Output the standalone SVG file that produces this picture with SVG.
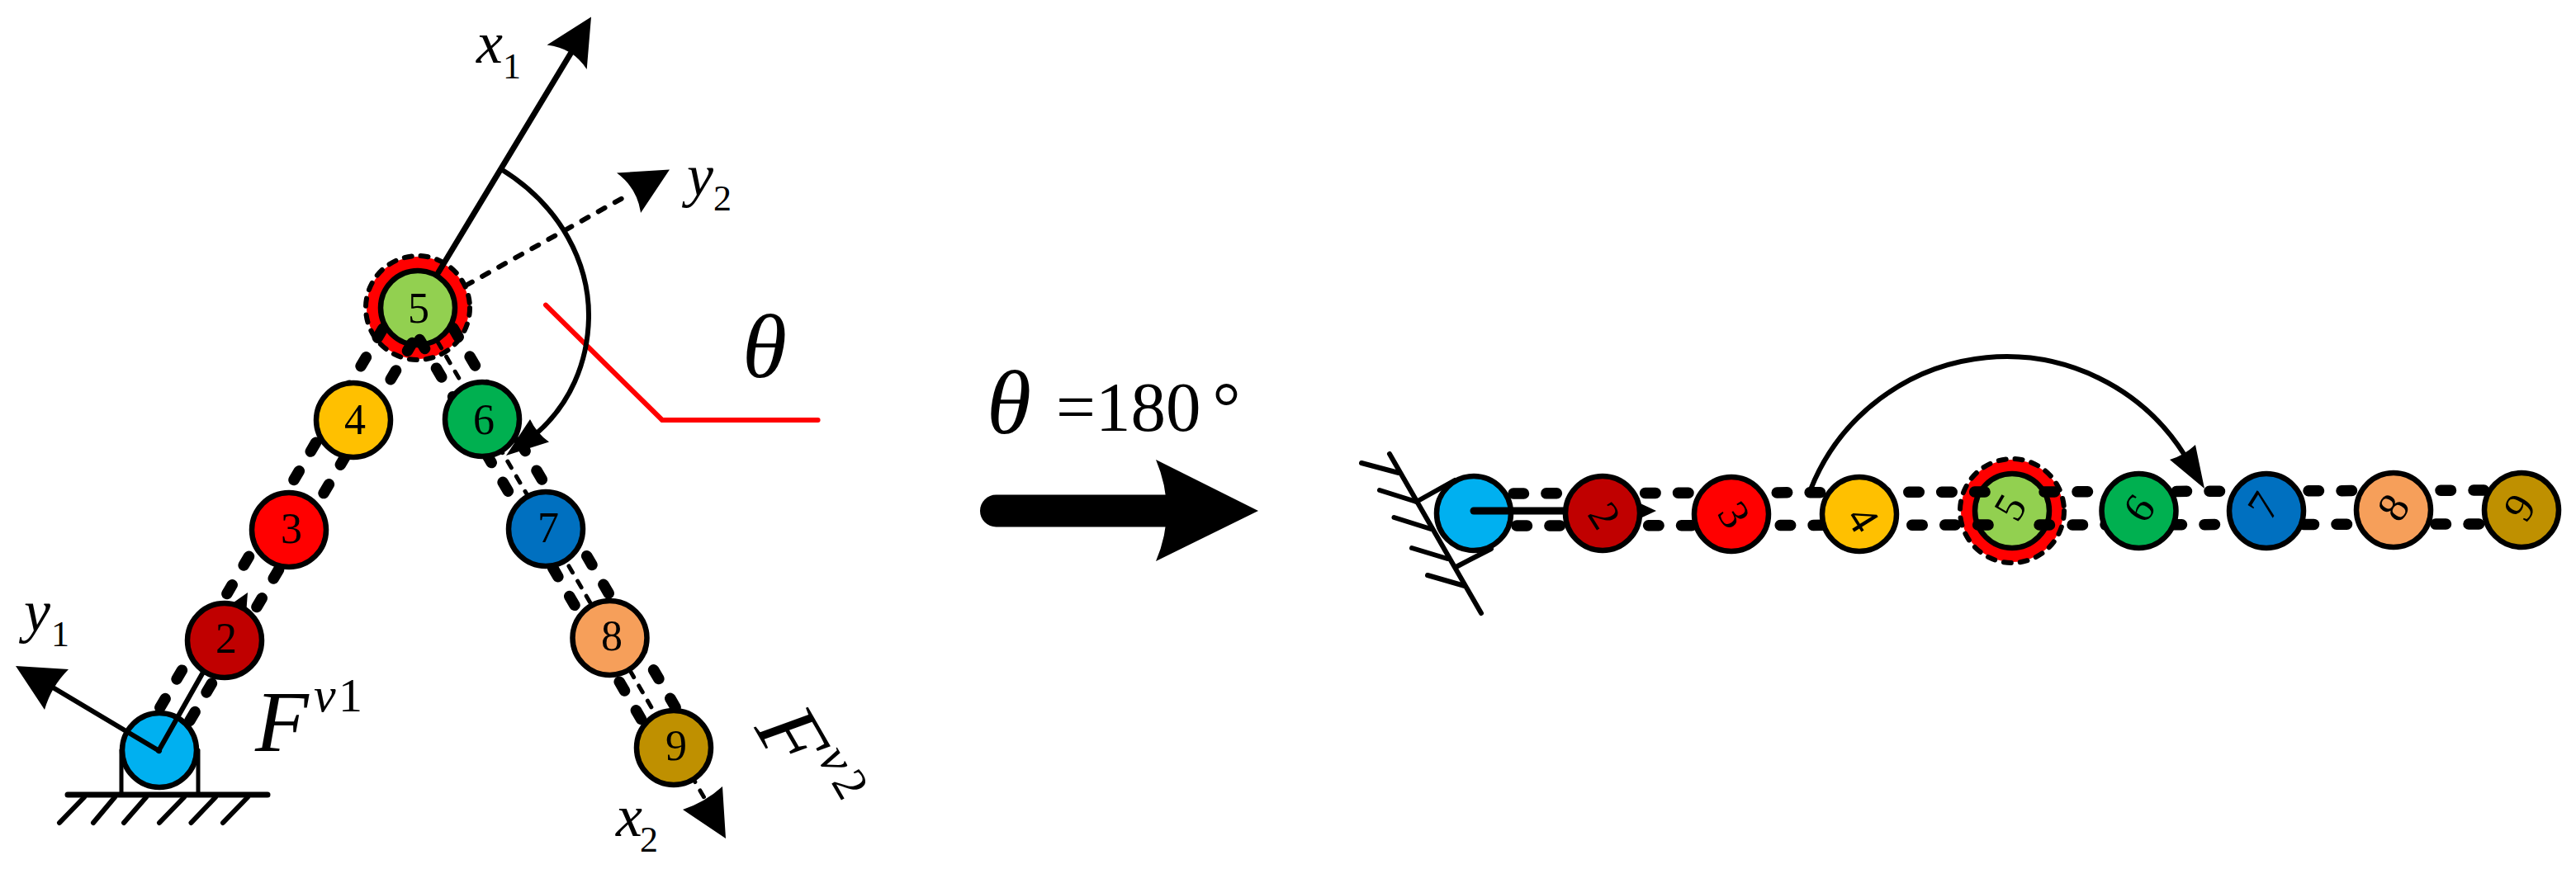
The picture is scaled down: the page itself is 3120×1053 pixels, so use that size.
<svg xmlns="http://www.w3.org/2000/svg" width="3120" height="1053" viewBox="0 0 3120 1053">
<style>
.n{stroke:#000;stroke-width:6.5}
.d{font:52px "Liberation Serif",serif;text-anchor:middle;fill:#000}
.l{fill:none;stroke:#000;stroke-width:6;stroke-linecap:round}
.t{fill:none;stroke:#000;stroke-width:13.5;stroke-linecap:round;stroke-dasharray:12.5 27.5}
.tr{fill:none;stroke:#000;stroke-width:13.5;stroke-linecap:round}
.th{fill:none;stroke:#000;stroke-width:5;stroke-linecap:round;stroke-dasharray:9 12}
.dot{fill:none;stroke:#000;stroke-width:6;stroke-linecap:round;stroke-dasharray:9 14}
.h{fill:#000}
.i{font-family:"Liberation Serif",serif;font-style:italic;fill:#000}
.r{font-family:"Liberation Serif",serif;fill:#000}
</style>
<rect width="3120" height="1053" fill="#fff"/>
<g id="ground-left">
<path class="l" d="M82,963H324" style="stroke-width:7"/>
<path class="l" d="M102,966L72,997M139,966L113,997M177,966L150,997M223,966L193,997M261,966L231.500,997M300,966L270,997"/>
<path class="l" d="M147,909V963M240,909V963" style="stroke-width:5"/>
</g>
<g id="ground-right">
<path class="l" d="M1683,550L1794,743"/>
<path class="l" d="M1649,561L1694,573M1671,594L1715.500,608M1688.500,627L1733,641M1710,664L1753,677M1729,697L1774,710"/>
<path class="l" d="M1715.500,608L1762,582M1763.500,687L1806,665"/>
</g>
<g id="node-1"><circle class="n" cx="193" cy="909" r="45" fill="#00B0F0"/></g>
<g id="node-5"><circle cx="506" cy="373" r="62" fill="#f00"/><circle class="dot" cx="506" cy="373" r="63" style="stroke-dasharray:9 11"/><circle class="n" cx="506" cy="373" r="45" fill="#92D050"/><text class="d" transform="translate(507,391)">5</text></g>
<g id="node-r1"><circle class="n" cx="1785" cy="622" r="45" fill="#00B0F0"/></g>
<g id="node-r5"><circle cx="2437" cy="619" r="62" fill="#f00"/><circle class="dot" cx="2437" cy="619" r="63" style="stroke-dasharray:9 11"/><circle class="n" cx="2437" cy="619" r="45" fill="#92D050"/><text class="d" transform="translate(2435,615) rotate(-60) translate(0,17)">5</text></g>
<g id="connectors">
<path d="M661,369.600L802,509H990.600" fill="none" stroke="#f00" stroke-width="6" stroke-linecap="round" stroke-linejoin="round"/>
<path class="t" d="M193.800,857.400L464.700,396.600"/>
<path class="t" d="M229.800,873.400L499.200,415.500"/>
<path class="t" d="M508.300,411.600L797,906.400"/>
<path class="t" d="M548.900,397.600L836.600,888.600"/>
<path class="th" d="M530,414L855,970"/>
<path class="h" d="M879,1016L875,953Q854,972 827,981Z"/>
<path class="l" d="M531,330L691,65" style="stroke-width:7"/>
<path class="h" d="M716,20.500L662.500,54.500Q694,58 710.700,84Z"/>
<path class="dot" d="M564,346L763,235"/>
<path class="h" d="M811,205.500L747,209.500Q772,228 776,258Z"/>
<path class="l" d="M193,910L64,833"/>
<path class="h" d="M19,807L83,811Q62,832 54,860Z"/>
<path class="l" d="M192,910L265,781"/>
<path class="h" d="M300,718L295,784L246,756Z"/>
<path class="tr" style="stroke-dasharray:12.500 27.400" d="M1833,598L2414,596"/>
<path class="tr" style="stroke-dasharray:12.500 27.500" d="M2476,596L3010,594"/>
<path class="tr" style="stroke-dasharray:12.500 27.400" d="M1837,637L2414,636"/>
<path class="tr" style="stroke-dasharray:12.500 27.500" d="M2470,636L3005,635"/>
<path class="l" d="M1785,619H1960" style="stroke-width:9"/>
<path class="h" d="M2006,619L1946,591L1946,647Z"/>
</g>
<g id="node-2"><circle class="n" cx="272" cy="776" r="45" fill="#C00000"/><text class="d" x="274" y="791">2</text></g>
<g id="node-3"><circle class="n" cx="350" cy="642" r="45" fill="#f00"/><text class="d" x="353" y="658">3</text></g>
<g id="node-4"><circle class="n" cx="428" cy="509" r="45" fill="#FFC000"/><text class="d" x="430" y="526">4</text></g>
<g id="node-6"><circle class="n" cx="584" cy="508" r="45" fill="#00B050"/><text class="d" x="586" y="526">6</text></g>
<g id="node-7"><circle class="n" cx="661" cy="641" r="45" fill="#0070C0"/><text class="d" x="664" y="657">7</text></g>
<g id="node-8"><circle class="n" cx="738.500" cy="773" r="45" fill="#F69F5A"/><text class="d" x="741" y="788">8</text></g>
<g id="node-9"><circle class="n" cx="816" cy="906" r="45" fill="#BF9000"/><text class="d" x="819" y="921">9</text></g>
<g id="node-r2"><circle class="n" cx="1941" cy="622" r="45" fill="#C00000"/><text class="d" transform="translate(1943,625) rotate(58) translate(0,17)">2</text></g>
<g id="node-r3"><circle class="n" cx="2097" cy="623" r="45" fill="#f00"/><text class="d" transform="translate(2100,624) rotate(58) translate(0,17)">3</text></g>
<g id="node-r4"><circle class="n" cx="2252" cy="623" r="45" fill="#FFC000"/><text class="d" transform="translate(2256,629) rotate(58) translate(0,17)">4</text></g>
<g id="node-r6"><circle class="n" cx="2590.500" cy="619" r="45" fill="#00B050"/><text class="d" transform="translate(2591,616) rotate(-55) translate(0,17)">6</text></g>
<g id="node-r7"><circle class="n" cx="2745" cy="619" r="45" fill="#0070C0"/><text class="d" transform="translate(2742,613) rotate(-58) translate(0,17)">7</text></g>
<g id="node-r8"><circle class="n" cx="2899" cy="618" r="45" fill="#F69F5A"/><text class="d" transform="translate(2899,615) rotate(-58) translate(0,17)">8</text></g>
<g id="node-r9"><circle class="n" cx="3054" cy="618" r="45" fill="#BF9000"/><text class="d" transform="translate(3052,615) rotate(-58) translate(0,17)">9</text></g>
<g id="connectors-top">
<path class="l" d="M607,205C680,250 714,320 713,385C712,440 690,490 650,525"/>
<path class="h" d="M613,552L642,508Q650,525 665,535.600Z"/>
<path class="l" d="M2193,593A255,255 0 0 1 2645,550"/>
<path class="h" d="M2670,592L2659,539Q2645,552 2628,557Z"/>
<path class="h" d="M1187,619a19.500,19.500 0 0 1 19.500,-19.500H1413V638.500H1206.500A19.500,19.500 0 0 1 1187,619Z"/>
<path class="h" d="M1524,619L1400,557Q1426,619 1400,680Z"/>
</g>
<g id="labels">
<text class="i" x="577" y="76" font-size="72">x</text><text class="r" x="609" y="95" font-size="44">1</text>
<text class="i" x="832" y="237" font-size="72">y</text><text class="r" x="864" y="255" font-size="44">2</text>
<text class="i" x="29" y="765" font-size="72">y</text><text class="r" x="62" y="783" font-size="44">1</text>
<text class="i" x="746" y="1013" font-size="72">x</text><text class="r" x="775" y="1032" font-size="44">2</text>
<text class="i" x="899" y="457" font-size="110">θ</text>
<text class="i" x="1195" y="525" font-size="110">θ</text>
<text class="r" x="1279" y="522" font-size="85">=180<tspan dx="14">°</tspan></text>
<text class="i" x="309" y="910" font-size="106">F<tspan x="380" y="862" font-size="60">v</tspan><tspan class="r" x="410" y="862" font-size="58" font-style="normal">1</tspan></text>
<text class="i" transform="translate(913,882) rotate(60)" font-size="106">F<tspan x="70" y="-48" font-size="60">v</tspan><tspan x="103" y="-48" font-size="58" font-style="normal">2</tspan></text>
</g>
</svg>
